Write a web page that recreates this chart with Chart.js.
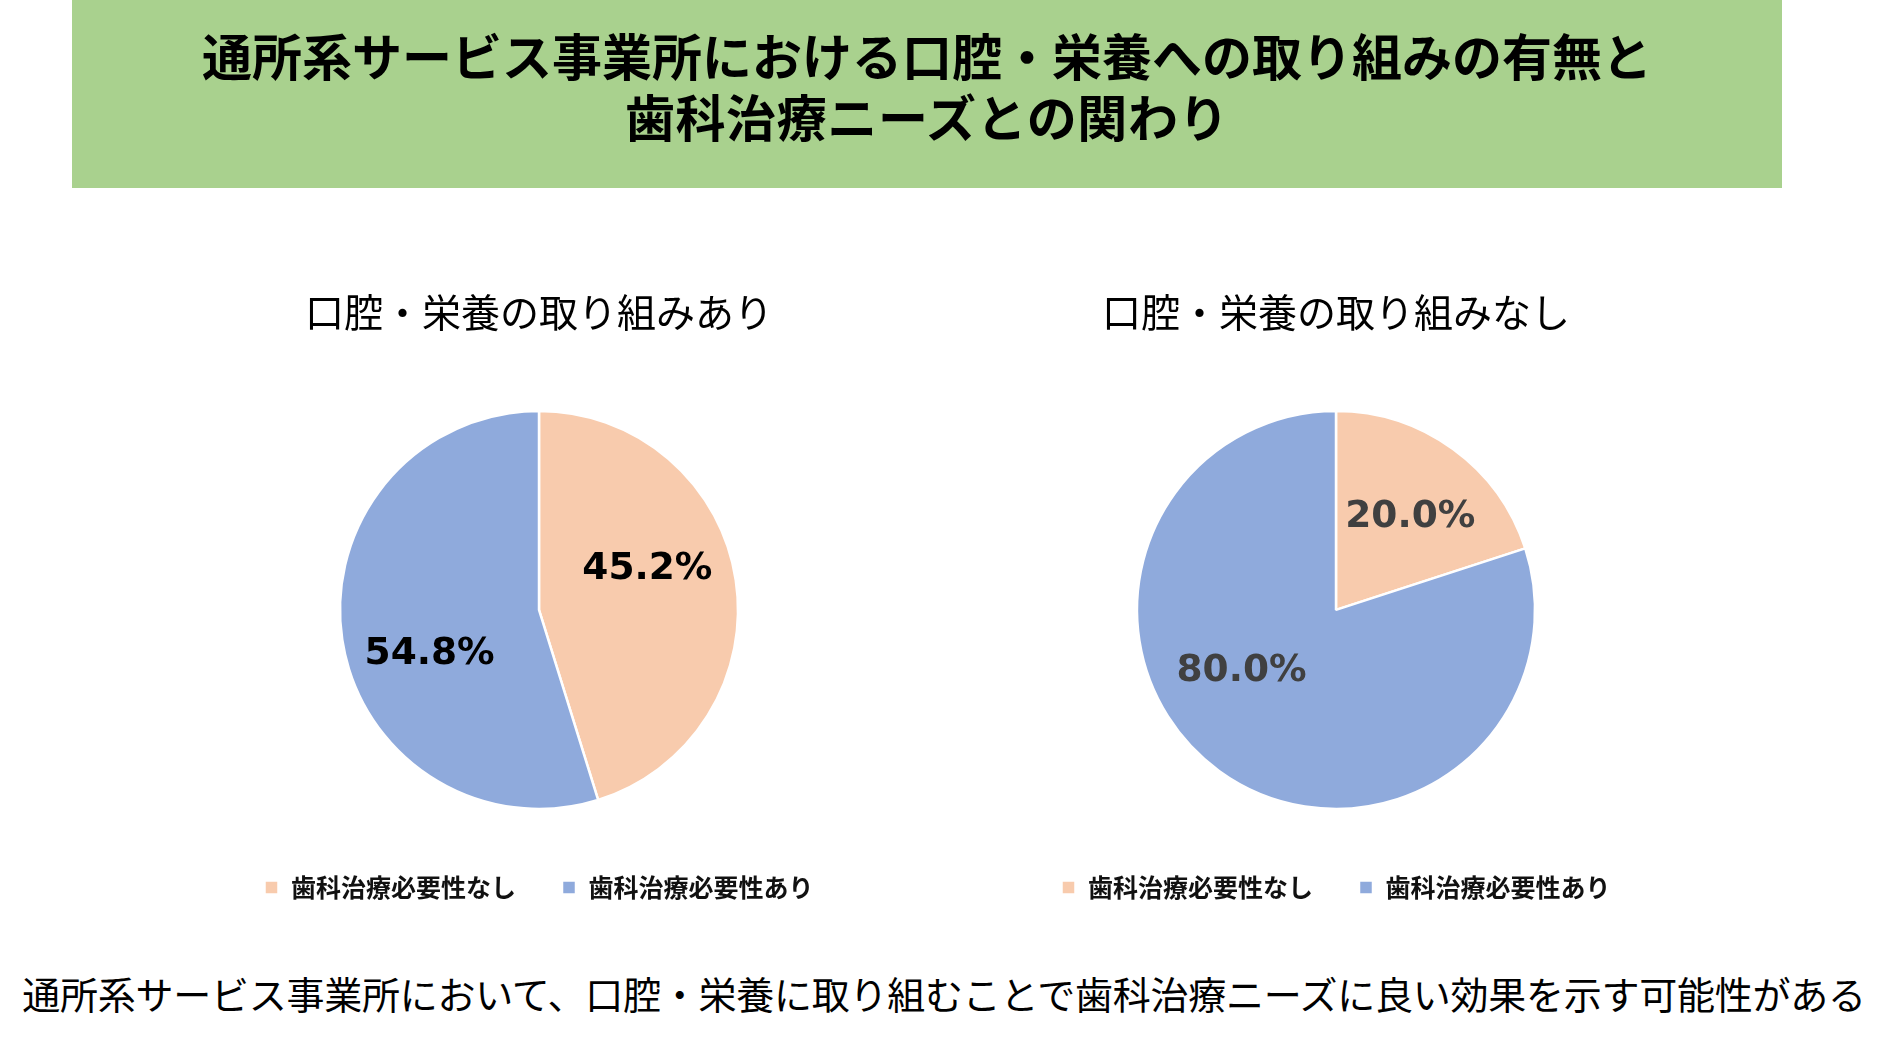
<!DOCTYPE html>
<html lang="ja">
<head>
<meta charset="utf-8">
<script src="https://cdn.jsdelivr.net/npm/chart.js@4.4.1/dist/chart.umd.min.js"></script>
<style>
  html, body { margin: 0; padding: 0; background: #fff; }
  body { width: 1888px; height: 1045px; position: relative; overflow: hidden; font-family: "Noto Sans CJK JP", sans-serif; }
  #banner { position: absolute; left: 72px; top: 0; width: 1710px; height: 188px; background: #A9D18E; }
  .tline { position: absolute; left: 0; width: 100%; text-align: center; font-weight: 700; color: #000; font-size: 50px; line-height: 60px; white-space: nowrap; }
  #t1 { top: 24px; letter-spacing: 0px; }
  #t2 { top: 85px; letter-spacing: 0.6px; }
  #note { position: absolute; left: 0; width: 1888px; top: 966px; text-align: center; font-size: 38px; line-height: 54px; letter-spacing: -0.25px; color: #000; white-space: nowrap; }
  .box { position: absolute; top: 270px; width: 790px; height: 640px; }
  #boxL { left: 144px; }
  #boxR { left: 941px; }
</style>
</head>
<body>
<div id="banner">
  <div class="tline" id="t1"></div>
  <div class="tline" id="t2"></div>
</div>
<div class="box" id="boxL"><canvas id="pieL" width="790" height="640"></canvas></div>
<div class="box" id="boxR"><canvas id="pieR" width="790" height="640"></canvas></div>
<div id="note"></div>
<script>
// ---- data ----
const mainTitleLines = ['通所系サービス事業所における口腔・栄養への取り組みの有無と', '歯科治療ニーズとの関わり'];
const categories = ['歯科治療必要性なし', '歯科治療必要性あり'];
const chartTitles = ['口腔・栄養の取り組みあり', '口腔・栄養の取り組みなし'];
const withProgram = [45.2, 54.8];
const withoutProgram = [20.0, 80.0];
const noteText = '通所系サービス事業所において、口腔・栄養に取り組むことで歯科治療ニーズに良い効果を示す可能性がある';

document.getElementById('t1').textContent = mainTitleLines[0];
document.getElementById('t2').textContent = mainTitleLines[1];
document.getElementById('note').textContent = noteText;

const colors = ['#F8CBAD', '#8FAADC'];

// label plugin: draws percentage labels inside slices
const sliceLabels = {
  id: 'sliceLabels',
  afterDatasetsDraw(chart, args, opts) {
    const ctx = chart.ctx;
    const meta = chart.getDatasetMeta(0);
    const data = chart.data.datasets[0].data;
    ctx.save();
    ctx.font = opts.font;
    ctx.fillStyle = opts.color;
    ctx.textAlign = 'center';
    ctx.textBaseline = 'middle';
    meta.data.forEach((arc, i) => {
      const p = arc.getProps(['x', 'y', 'startAngle', 'endAngle', 'outerRadius'], true);
      const adj = (opts.anchors && opts.anchors[i]) || {dAngle: 0, r: 0.6};
      const a = (p.startAngle + p.endAngle) / 2 + adj.dAngle * Math.PI / 180;
      const r = p.outerRadius * adj.r;
      ctx.fillText(data[i].toFixed(1) + '%', p.x + r * Math.cos(a), p.y + r * Math.sin(a) + 4.5);
    });
    ctx.restore();
  }
};

function makePie(id, title, values, labelColor, anchors) {
  return new Chart(document.getElementById(id), {
    type: 'pie',
    data: {
      labels: categories,
      datasets: [{
        data: values,
        backgroundColor: colors,
        borderColor: '#ffffff',
        borderWidth: 2.5,
        hoverOffset: 0
      }]
    },
    options: {
      responsive: false,
      animation: false,
      radius: 199,
      layout: { padding: 0 },
      plugins: {
        title: {
          display: true,
          text: title,
          color: '#000',
          font: { family: '"Noto Sans CJK JP"', size: 39, weight: 'normal', lineHeight: 1.2 },
          padding: { top: 19, bottom: 55 }
        },
        legend: {
          display: true,
          position: 'bottom',
          labels: {
            color: '#111',
            font: { family: '"Noto Sans CJK JP"', size: 25, weight: 'bold' },
            boxWidth: 14,
            boxHeight: 14,
            padding: 46
          }
        },
        tooltip: { enabled: false },
        sliceLabels: {
          font: 'bold 37.5px "DejaVu Sans"',
          color: labelColor,
          anchors: anchors
        }
      }
    },
    plugins: [sliceLabels]
  });
}

makePie('pieL', chartTitles[0], withProgram, '#000000', [{dAngle: -14, r: 0.59}, {dAngle: -11.6, r: 0.586}]);
makePie('pieR', chartTitles[1], withoutProgram, '#404040', [{dAngle: 1.3, r: 0.616}, {dAngle: 22.8, r: 0.555}]);
</script>
</body>
</html>
